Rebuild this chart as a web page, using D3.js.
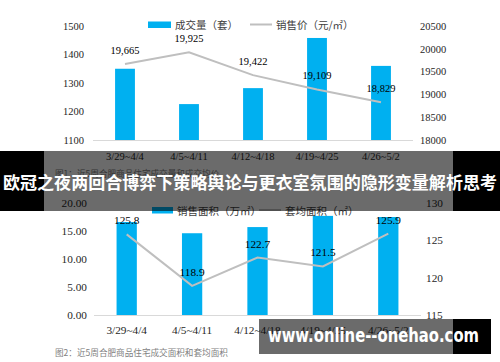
<!DOCTYPE html>
<html><head><meta charset="utf-8">
<script src="https://cdn.jsdelivr.net/npm/d3@7"></script>
<style>html,body{margin:0;padding:0;background:#fff;}svg{display:block;}</style>
</head><body>
<svg id="c" width="500" height="362"></svg>
<script>
const weeks = ["3/29~4/4","4/5~4/11","4/12~4/18","4/19~4/25","4/26~5/2"];
const volume = [1350,1226,1282,1458,1360];
const price = [19665,19925,19422,19109,18829];
const priceLabels = ["19,665","19,925","19,422","19,109","18,829"];
const volTicks = [1100,1200,1300,1400,1500];
const priceTicks = [18000,18500,19000,19500,20000,20500];
const area = [16.6,14.6,15.7,17.7,17.5];
const avgArea = [125.8,118.9,122.7,121.5,125.9];
const areaTicks = [0,5,10,15,20];
const avgTicks = [115,120,125,130];
const bannerTitle = "欧冠之夜两回合博弈下策略舆论与更衣室氛围的隐形变量解析思考";
const watermark = "www.online--onehao.com";

const svg = d3.select("#c");
const BLUE = "#00b0f0", LINE = "#bfbfbf", AX = "#d9d9d9";
const serif = "'Liberation Serif','Times New Roman',serif";
const cjk = "'Noto Sans CJK SC',sans-serif";

function chart(o){
  const g = svg.append("g");
  const x = d3.scaleBand().domain(weeks).range([o.x0,o.x1]).paddingInner(o.pad).paddingOuter(o.pad/2);
  const yl = d3.scaleLinear().domain(o.ld).range([o.yb,o.yt]);
  const yr = d3.scaleLinear().domain(o.rd).range([o.yb,o.yt]);
  // bars
  g.selectAll(".b").data(o.bars).join("rect")
    .attr("x",(d,i)=>x(weeks[i])).attr("width",x.bandwidth())
    .attr("y",d=>yl(d)).attr("height",d=>yl(o.ld[0])-yl(d)).attr("fill",BLUE);
  // axis baseline
  g.append("line").attr("x1",o.x0).attr("x2",o.x1).attr("y1",o.yb+0.5).attr("y2",o.yb+0.5)
    .attr("stroke",AX).attr("stroke-width",1.2);
  // left ticks
  const la = d3.axisLeft(yl).tickValues(o.lt).tickSize(0).tickFormat(o.lf);
  const lg = g.append("g").attr("transform",`translate(${o.lx},0)`).call(la);
  lg.select(".domain").remove();
  lg.selectAll("text").attr("font-family",serif).attr("font-size",o.fs).attr("fill","#262626").attr("x",0).attr("dx",0);
  const ra = d3.axisRight(yr).tickValues(o.rt).tickSize(0).tickFormat(d3.format("d"));
  const rg = g.append("g").attr("transform",`translate(${o.rx},0)`).call(ra);
  rg.select(".domain").remove();
  rg.selectAll("text").attr("font-family",serif).attr("font-size",o.fs).attr("fill","#262626").attr("x",0).attr("dx",0);
  // x labels
  g.selectAll(".xl").data(weeks).join("text")
    .attr("x",d=>x(d)+x.bandwidth()/2).attr("y",o.yb+o.xlo).attr("text-anchor","middle")
    .attr("dominant-baseline","central").attr("font-family",serif).attr("font-size",o.fs).attr("fill","#262626").text(d=>d);
  // line
  const line = d3.line().x((d,i)=>x(weeks[i])+x.bandwidth()/2).y(d=>yr(d));
  g.append("path").attr("d",line(o.line)).attr("fill","none").attr("stroke",LINE).attr("stroke-width",2);
  g.selectAll(".dl").data(o.line).join("text")
    .attr("x",(d,i)=>x(weeks[i])+x.bandwidth()/2).attr("y",d=>yr(d)-14)
    .attr("text-anchor","middle").attr("dominant-baseline","central")
    .attr("font-family",serif).attr("font-size",o.fs).attr("fill","#000").text((d,i)=>o.labels[i]);
  // legend
  const L = o.leg;
  g.append("rect").attr("x",L.rx).attr("y",L.y-3).attr("width",L.rw).attr("height",6.5).attr("fill",BLUE);
  g.append("text").attr("x",L.rx+L.rw+4).attr("y",L.y).attr("dominant-baseline","central")
    .attr("font-family",cjk).attr("font-size",10.5).attr("fill","#404040").text(L.t1);
  g.append("line").attr("x1",L.lx).attr("x2",L.lx+22).attr("y1",L.y).attr("y2",L.y).attr("stroke",LINE).attr("stroke-width",2);
  g.append("text").attr("x",L.lx+26).attr("y",L.y).attr("dominant-baseline","central")
    .attr("font-family",cjk).attr("font-size",10.5).attr("fill","#404040").text(L.t2);
  // caption
  g.append("text").attr("x",55).attr("y",o.capY).attr("dominant-baseline","central")
    .attr("font-family",cjk).attr("font-size",8.6).attr("fill","#7f7f7f").text(o.cap);
}

chart({x0:93,x1:413,pad:0.69,yb:140,yt:26,ld:[1100,1500],rd:[18000,20500],lt:volTicks,rt:priceTicks,
  lf:d3.format("d"),lx:84,rx:420,fs:10.5,xlo:16,bars:volume,line:price,labels:priceLabels,
  leg:{rx:148,rw:23,y:24.5,t1:"成交量（套）",lx:250,t2:"销售价（元/㎡）"},capY:173,
  cap:"图1：近5周合肥商品住宅成交量和成交均价"});
chart({x0:94,x1:421,pad:0.69,yb:315,yt:203,ld:[0,20],rd:[115,130],lt:areaTicks,rt:avgTicks,
  lf:d3.format(".2f"),lx:87,rx:426,fs:11.3,xlo:15,bars:area,line:avgArea,labels:avgArea.map(d=>d.toFixed(1)),
  leg:{rx:152,rw:21,y:210,t1:"销售面积（万㎡）",lx:259,t2:"套均面积（㎡）"},capY:352,
  cap:"图2：近5周合肥商品住宅成交面积和套均面积"});

// banner overlay
svg.append("rect").attr("x",0).attr("y",151).attr("width",44).attr("height",60).attr("fill","#000");
svg.append("rect").attr("x",453).attr("y",151).attr("width",47).attr("height",60).attr("fill","#000");
svg.append("rect").attr("x",44).attr("y",151).attr("width",409).attr("height",60).attr("fill","#000").attr("fill-opacity",0.58);
svg.append("text").attr("x",250).attr("y",181).attr("text-anchor","middle").attr("dominant-baseline","central")
  .attr("font-family",cjk).attr("font-weight","bold").attr("font-size",17).attr("fill","#fff")
  .attr("textLength",494).attr("lengthAdjust","spacingAndGlyphs").text(bannerTitle);
// watermark
svg.append("rect").attr("x",259).attr("y",319).attr("width",194).attr("height",35).attr("fill","#000").attr("fill-opacity",0.58);
svg.append("rect").attr("x",453).attr("y",319).attr("width",38).attr("height",35).attr("fill","#000");
svg.append("text").attr("x",268).attr("y",342).attr("font-family","'DejaVu Sans',sans-serif").attr("font-weight","bold")
  .attr("font-size",19).attr("fill","#fff").attr("textLength",211).attr("lengthAdjust","spacingAndGlyphs").text(watermark);
</script>
</body></html>
